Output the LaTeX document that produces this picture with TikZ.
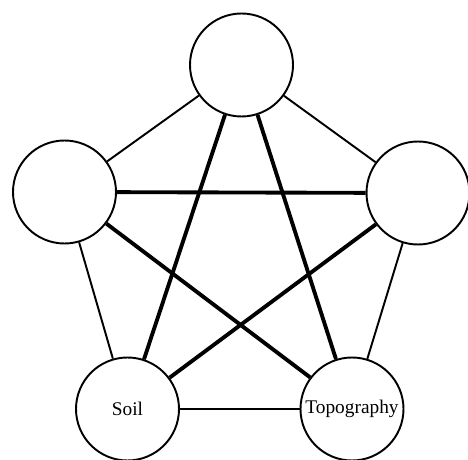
\documentclass[tikz,border=0pt]{standalone}
\usepackage{fontspec}
\setmainfont{Liberation Serif}

\begin{document}
\begin{tikzpicture}[factor/.style={draw,circle,line width=1.1pt,minimum size=2.06cm,inner sep=0pt,font=\fontsize{11}{13}\selectfont},
	side/.style={line width=1.1pt},
	diag/.style={line width=2.2pt}]
	\useasboundingbox (0,0) rectangle (9.36,9.18);
	\node[factor] (top) at (4.83,7.88) {};
	\node[factor] (left) at (1.29,5.34) {};
	\node[factor] (right) at (8.36,5.32) {};
	\node[factor] (soil) at (2.55,1.0) {Soil};
	\node[factor] (topo) at (7.04,1.0) {Topography};
	% pentagon
	\draw[side] (top) -- (left);
	\draw[side] (top) -- (right);
	\draw[side] (left) -- (soil);
	\draw[side] (right) -- (topo);
	\draw[side] (soil) -- (topo);
	% star
	\draw[diag] (top) -- (soil);
	\draw[diag] (top) -- (topo);
	\draw[diag] (left) -- (right);
	\draw[diag] (left) -- (topo);
	\draw[diag] (right) -- (soil);
\end{tikzpicture}
\end{document}
